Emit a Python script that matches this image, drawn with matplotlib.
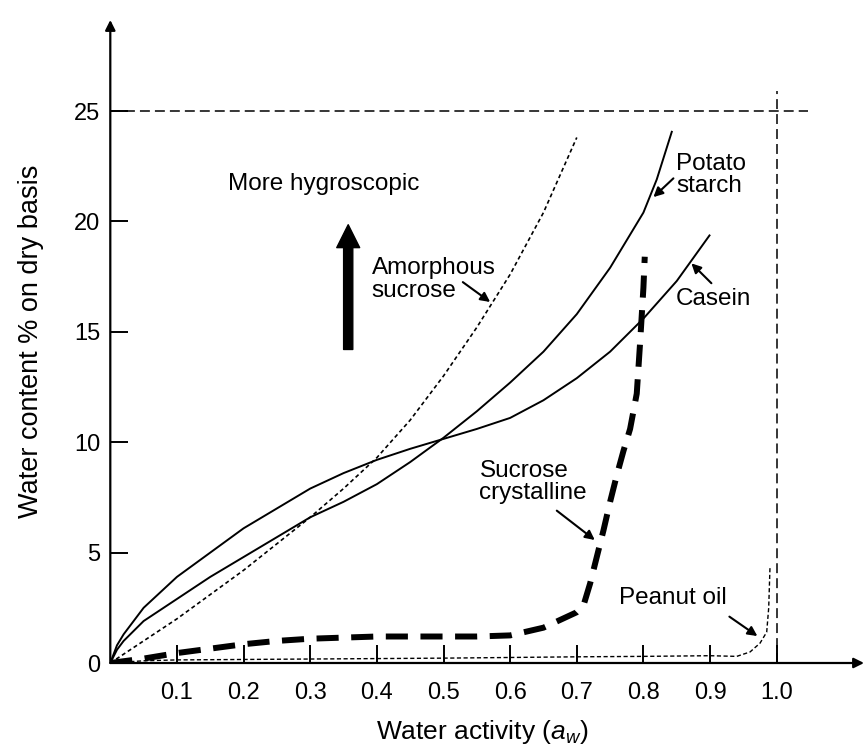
import matplotlib
matplotlib.use("Agg")
import matplotlib.pyplot as plt

plt.rcParams['font.family'] = ['Liberation Sans', 'DejaVu Sans']
plt.rcParams['mathtext.fontset'] = 'custom'
plt.rcParams['mathtext.rm'] = 'Liberation Sans'
plt.rcParams['mathtext.it'] = 'Liberation Sans:italic'

# ---------------- data ----------------
x_ticks = [0.1, 0.2, 0.3, 0.4, 0.5, 0.6, 0.7, 0.8, 0.9, 1.0]
x_tick_labels = ["0.1", "0.2", "0.3", "0.4", "0.5", "0.6", "0.7", "0.8", "0.9", "1.0"]
y_ticks = [0, 5, 10, 15, 20, 25]
y_tick_labels = ["0", "5", "10", "15", "20", "25"]

amorphous_aw = [0, 0.05, 0.1, 0.15, 0.2, 0.25, 0.3, 0.35, 0.4, 0.45, 0.5, 0.55, 0.6, 0.65, 0.7]
amorphous_wc = [0, 1.0, 2.0, 3.1, 4.2, 5.4, 6.6, 7.9, 9.3, 11.0, 13.0, 15.2, 17.6, 20.4, 23.8]

starch_aw = [0, 0.01, 0.02, 0.05, 0.1, 0.15, 0.2, 0.25, 0.3, 0.35, 0.4, 0.45, 0.5, 0.55,
             0.6, 0.65, 0.7, 0.75, 0.8, 0.82, 0.843]
starch_wc = [0, 0.6, 1.0, 1.9, 2.9, 3.9, 4.8, 5.7, 6.6, 7.3, 8.1, 9.1, 10.2, 11.4,
             12.7, 14.1, 15.8, 17.9, 20.4, 21.9, 24.1]

casein_aw = [0, 0.01, 0.02, 0.05, 0.1, 0.15, 0.2, 0.25, 0.3, 0.35, 0.4, 0.45, 0.5, 0.55,
             0.6, 0.65, 0.7, 0.75, 0.8, 0.85, 0.9]
casein_wc = [0, 0.8, 1.3, 2.5, 3.9, 5.0, 6.1, 7.0, 7.9, 8.6, 9.2, 9.7, 10.15, 10.6,
             11.1, 11.9, 12.9, 14.1, 15.6, 17.3, 19.4]

crystal_aw = [0, 0.05, 0.1, 0.15, 0.2, 0.25, 0.3, 0.35, 0.4, 0.45, 0.5, 0.55, 0.6, 0.65,
              0.7, 0.71, 0.72, 0.73, 0.74, 0.75, 0.76, 0.77, 0.78, 0.79, 0.795, 0.8, 0.802]
crystal_wc = [0, 0.2, 0.45, 0.65, 0.85, 1.0, 1.1, 1.15, 1.2, 1.2, 1.2, 1.2, 1.25, 1.6,
              2.3, 2.6, 3.6, 4.8, 6.0, 7.3, 8.5, 9.6, 10.6, 12.2, 14.5, 17.0, 18.4]

peanut_aw = [0, 0.05, 0.1, 0.2, 0.3, 0.4, 0.5, 0.6, 0.7, 0.8, 0.9, 0.94, 0.96, 0.975,
             0.985, 0.988, 0.99]
peanut_wc = [0, 0.1, 0.14, 0.16, 0.18, 0.2, 0.22, 0.25, 0.28, 0.3, 0.33, 0.3, 0.5, 0.9,
             1.4, 2.5, 4.4]

ref_wc = 25
ref_aw = 1.0

# ---------------- figure ----------------
W, H = 865, 752
fig = plt.figure(figsize=(W / 100, H / 100), dpi=100)
x0_px, y0_px = 110.3, 663.0
top_px, right_px = 20.0, 864.0
ax = fig.add_axes([x0_px / W, (H - y0_px) / H, (right_px - x0_px) / W, (y0_px - top_px) / H])
ax.set_xlim(0, (right_px - x0_px) / 666.4)
ax.set_ylim(0, (y0_px - top_px) / 22.08)

for s in ax.spines.values():
    s.set_visible(False)

# axes with arrow heads
axis_kw = dict(arrowstyle='-|>', lw=1.6, color='k', mutation_scale=15, shrinkA=0, shrinkB=0)
ax.annotate('', xy=(1, 0), xytext=(0, 0), xycoords='axes fraction', arrowprops=axis_kw)
ax.annotate('', xy=(0, 1), xytext=(0, 0), xycoords='axes fraction', arrowprops=axis_kw)

ax.set_xticks(x_ticks)
ax.set_xticklabels(x_tick_labels)
ax.set_yticks(y_ticks)
ax.set_yticklabels(y_tick_labels)
ax.tick_params(axis='x', direction='in', length=13, width=1.4, labelsize=17, pad=14)
ax.tick_params(axis='y', direction='in', length=13, width=1.4, labelsize=17, pad=7)

ax.set_xlabel(r'Water activity ($a_w$)', fontsize=19)
ax.xaxis.set_label_coords(0.494, -0.086)
ax.set_ylabel('Water content % on dry basis', fontsize=19.5)
ax.yaxis.set_label_coords(-0.088, 0.50)

# reference dashed lines
ax.plot([0, 1.047], [ref_wc, ref_wc], color='k', lw=1.1, dashes=(6.5, 3.3))
ax.plot([ref_aw, ref_aw], [0, 25.9], color='k', lw=1.1, dashes=(6.5, 3.3))

# curves
ax.plot(amorphous_aw, amorphous_wc, color='k', lw=1.2, dashes=(2.4, 1.8))
ax.plot(starch_aw, starch_wc, color='k', lw=1.4, solid_capstyle='butt')
ax.plot(casein_aw, casein_wc, color='k', lw=1.4, solid_capstyle='butt')
ax.plot(crystal_aw, crystal_wc, color='k', lw=4.3, dashes=(3.7, 2.1), dash_capstyle='butt')
ax.plot(peanut_aw, peanut_wc, color='k', lw=1.0, dashes=(3, 1.8))

# annotations
fs = 17.5
ax.text(0.177, 21.7, 'More hygroscopic', fontsize=fs, ha='left', va='center')
ax.annotate('', xy=(0.357, 19.85), xytext=(0.357, 14.2),
            arrowprops=dict(arrowstyle='simple,head_length=0.75,head_width=0.75,tail_width=0.3',
                            color='k', mutation_scale=22, shrinkA=0, shrinkB=0))

arrow_kw = dict(arrowstyle='-|>', lw=1.5, color='k', mutation_scale=14, shrinkA=0, shrinkB=0)
ax.text(0.392, 17.35, 'Amorphous\nsucrose', fontsize=fs, ha='left', va='center', linespacing=1.05)
ax.annotate('', xy=(0.570, 16.35), xytext=(0.529, 17.25), arrowprops=arrow_kw)

ax.text(0.849, 22.1, 'Potato\nstarch', fontsize=fs, ha='left', va='center', linespacing=1.05)
ax.annotate('', xy=(0.815, 21.1), xytext=(0.845, 21.95), arrowprops=arrow_kw)

ax.text(0.849, 16.5, 'Casein', fontsize=fs, ha='left', va='center')
ax.annotate('', xy=(0.872, 18.1), xytext=(0.902, 17.2), arrowprops=arrow_kw)

ax.text(0.554, 8.2, 'Sucrose\ncrystalline', fontsize=fs, ha='left', va='center', linespacing=1.05)
ax.annotate('', xy=(0.727, 5.57), xytext=(0.670, 6.9), arrowprops=arrow_kw)

ax.text(0.763, 2.94, 'Peanut oil', fontsize=fs, ha='left', va='center')
ax.annotate('', xy=(0.971, 1.22), xytext=(0.929, 2.1), arrowprops=arrow_kw)

fig.savefig('out.png', dpi=100)
